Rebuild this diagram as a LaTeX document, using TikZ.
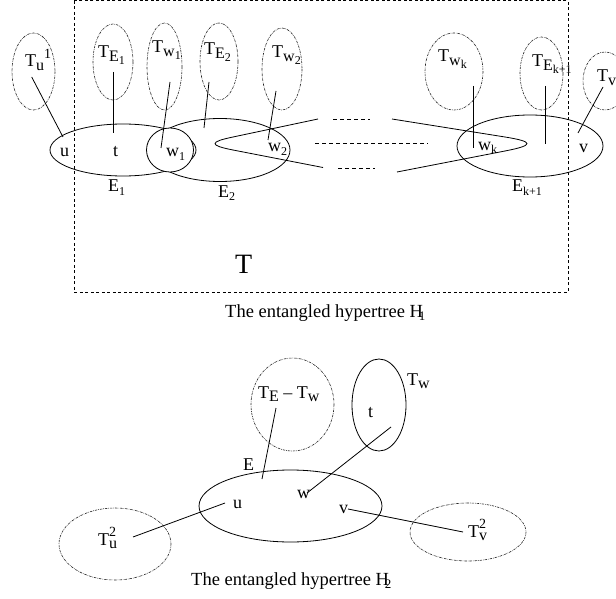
\documentclass[tikz,border=0pt]{standalone}
\usepackage{fontspec}
\setmainfont{Liberation Serif}
\newcommand\sbs[1]{\raisebox{-0.45ex}{\fontsize{16}{16}\selectfont #1}}
\newcommand\ssbs[1]{\raisebox{-0.4ex}{\fontsize{12}{12}\selectfont #1}}
\newcommand\sps[1]{\raisebox{1.0ex}{\fontsize{14}{14}\selectfont #1}}
\tikzset{
  tree/.style={draw=black!85, line width=0.6pt, dash pattern=on 2.5pt off 1pt on 0.6pt off 1pt},
  hedge/.style={draw, line width=0.8pt},
  conn/.style={line width=0.8pt},
  lbl/.style={anchor=base west, inner sep=0pt, font=\fontsize{18}{20}\selectfont},
  dots/.style={line width=0.7pt, dash pattern=on 4pt off 3pt},
}
\begin{document}
\begin{tikzpicture}[x=1pt,y=-1pt]
\useasboundingbox (0,0) rectangle (616,599);
% frame
\draw[line width=0.7pt, dash pattern=on 3pt off 2.5pt] (74,0.8) rectangle (568,292);
% top tree ellipses
\draw[tree] (33.5,71.5) ellipse [x radius=21.5, y radius=38.5];
\draw[tree] (113,62) ellipse [x radius=20, y radius=38];
\draw[tree] (164.5,66.5) ellipse [x radius=17.5, y radius=43.5];
\draw[tree] (219,61.5) ellipse [x radius=19, y radius=38.5];
\draw[tree] (282,69) ellipse [x radius=20, y radius=41];
\draw[tree] (454,71.5) ellipse [x radius=29, y radius=38.5];
\draw[tree] (541.5,73.5) ellipse [x radius=21.5, y radius=36.5];
\draw[tree] (605,81) ellipse [x radius=22, y radius=29];
% hyperedges
\draw[hedge] (123,150) ellipse [x radius=73, y radius=26];
\draw[hedge] (220,150) ellipse [x radius=70, y radius=31.5];
\draw[hedge, fill=white] (170,150) ellipse [x radius=23.5, y radius=22];
\draw[hedge] (530,146) ellipse [x radius=73, y radius=31];
\draw[hedge] (318,119) -- (233,137) .. controls (209,142) and (209,145.3) .. (233,150) -- (323,167.5);
\draw[hedge] (392,119) -- (505,137) .. controls (534.3,141.7) and (534.3,145.3) .. (505,151) -- (397,172);
\draw[dots] (333,119) -- (370,119);
\draw[dots] (315,143) -- (428,143);
\draw[dots] (338,168) -- (375,168);
% connector endpoints (top)
\coordinate (a1) at (31.7,77);  \coordinate (b1) at (63,137);
\coordinate (a2) at (113,72);   \coordinate (b2) at (113,133);
\coordinate (a3) at (170,82);   \coordinate (b3) at (161,148);
\coordinate (a4) at (209,82);   \coordinate (b4) at (204,128);
\coordinate (a5) at (276,91);   \coordinate (b5) at (268,140);
\coordinate (a6) at (473,86);   \coordinate (b6) at (473,148);
\coordinate (a7) at (545,86);   \coordinate (b7) at (545,144);
\coordinate (a8) at (603,87);   \coordinate (b8) at (578,133);
\foreach \i in {1,...,8} \draw[conn] (a\i) -- (b\i);
% top labels
\node[lbl] (lTu) at (25,67) {T\sbs{u}\sps{1}};
\node[lbl] (lTE1) at (98,58) {T\sbs{E\ssbs{1}}};
\node[lbl] (lTw1) at (152,53) {T\sbs{w\ssbs{1}}};
\node[lbl] (lTE2) at (204,55) {T\sbs{E\ssbs{2}}};
\node[lbl] (lTw2) at (272,58) {T\sbs{w\ssbs{2}}};
\node[lbl] (lTwk) at (438,62) {T\sbs{w\ssbs{k}}};
\node[lbl] (lTEk) at (532,67) {T\sbs{E\ssbs{k+1}}};
\node[lbl] (lTv) at (597,82) {T\sbs{v}\sps{1}};
\node[lbl] (lu) at (60,157) {u};
\node[lbl] (lt) at (113,157) {t};
\node[lbl] (lw1) at (166,157) {w\ssbs{1}};
\node[lbl] (lw2) at (268,152) {w\ssbs{2}};
\node[lbl] (lwk) at (478,150) {w\ssbs{k}};
\node[lbl] (lv) at (579,153) {v};
\node[lbl] (lE1) at (108,192) {E\ssbs{1}};
\node[lbl] (lE2) at (218,197) {E\ssbs{2}};
\node[lbl] (lEk) at (512,192) {E\ssbs{k+1}};
\node[anchor=base west, inner sep=0pt, font=\fontsize{28}{30}\selectfont] (bigT) at (235,273) {T};
\node[lbl, font=\fontsize{18.5}{20}\selectfont] (cap1) at (225,317) {The entangled hypertree H\kern-4pt\raisebox{-3pt}{\fontsize{13}{13}\selectfont 1}};
% bottom picture
\draw[tree] (292.5,404.5) ellipse [x radius=41.5, y radius=46.5];
\draw[hedge] (379,405) ellipse [x radius=27, y radius=46];
\draw[hedge] (290.5,506) ellipse [x radius=91.5, y radius=36];
\draw[tree] (115,544) ellipse [x radius=56, y radius=36];
\draw[tree] (468,532) ellipse [x radius=58, y radius=29];
\coordinate (c1) at (276,408); \coordinate (d1) at (262,479);
\coordinate (c2) at (225,503); \coordinate (d2) at (133,537);
\coordinate (c3) at (307,493); \coordinate (d3) at (391,427);
\coordinate (c4) at (348,509); \coordinate (d4) at (463,532);
\foreach \i in {1,...,4} \draw[conn] (c\i) -- (d\i);
\node[lbl] (lTEw) at (258,398) {T\sbs{E} -- T\sbs{w}};
\node[lbl] (lTw) at (407,385) {T\sbs{w}};
\node[lbl] (lt2) at (368,417) {t};
\node[lbl] (lE) at (243,470) {E};
\node[lbl] (lu2) at (233,508) {u};
\node[lbl] (lw) at (297,498) {w};
\node[lbl] (lv2) at (339,513) {v};
\node[lbl] (lTu2) at (98,545) {T\rlap{\sps{2}}\sbs{u}};
\node[lbl] (lTv2) at (468,537) {T\rlap{\sps{2}}\sbs{v}};
\node[lbl, font=\fontsize{18.5}{20}\selectfont] (cap2) at (191,585) {The entangled hypertree H\kern-4pt\raisebox{-3pt}{\fontsize{13}{13}\selectfont 2}};
\end{tikzpicture}
\end{document}
